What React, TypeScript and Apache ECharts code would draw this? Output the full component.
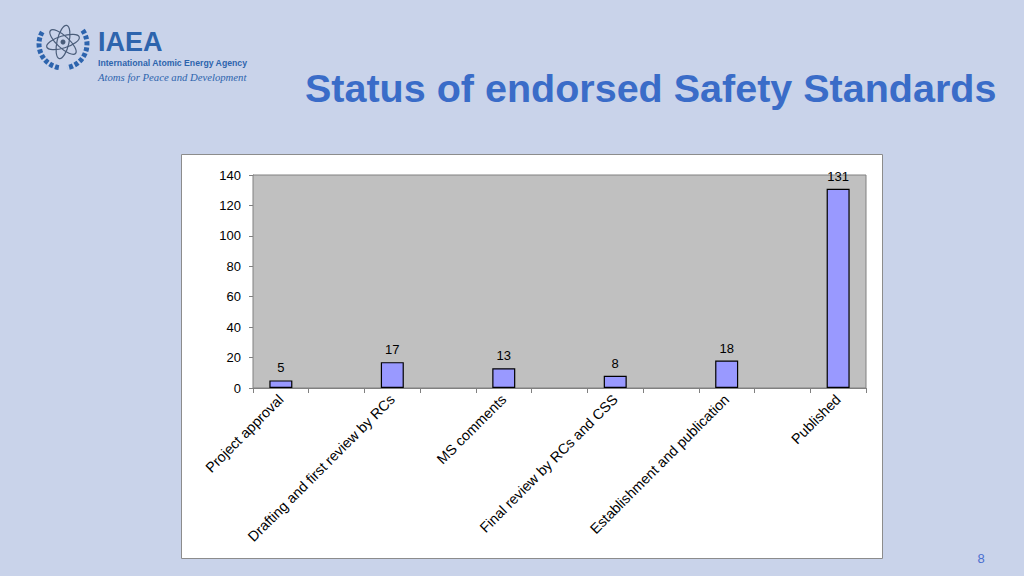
import React, { useEffect, useRef } from "react";
import * as echarts from "echarts";

const categories = [
  "Project approval",
  "",
  "Drafting and first review by RCs",
  "",
  "MS comments",
  "",
  "Final review by RCs and CSS",
  "",
  "Establishment and publication",
  "",
  "Published",
];
const values: (number | string)[] = [5, "-", 17, "-", 13, "-", 8, "-", 18, "-", 131];
const yMin = 0;
const yMax = 140;
const yStep = 20;
const titleText = "Status of endorsed Safety Standards";
const pageNumber = "8";

const FONT = "Liberation Sans, Arial, sans-serif";

export default function App() {
  const ref = useRef<HTMLDivElement>(null);
  useEffect(() => {
    if (!ref.current) return;
    const chart = echarts.init(ref.current, null, { renderer: "svg" });
    const logoBlue = "#2d64ad";
    chart.setOption({
      animation: false,
      backgroundColor: "#c9d3ea",
      textStyle: { fontFamily: FONT },
      grid: {
        left: 253,
        right: 158,
        top: 175,
        bottom: 188,
        show: true,
        backgroundColor: "#c0c0c0",
        borderColor: "#808080",
        borderWidth: 1,
        z: 1,
      },
      graphic: [
        // faint background decorations
        {
          type: "ellipse",
          z: -10,
          shape: { cx: 960, cy: 330, rx: 150, ry: 60 },
          rotation: 1.0,
          style: { fill: "none", stroke: "rgba(255,255,255,0.28)", lineWidth: 12 },
          silent: true,
        },
        {
          type: "ellipse",
          z: -10,
          shape: { cx: 960, cy: 330, rx: 150, ry: 60 },
          rotation: -0.6,
          style: { fill: "none", stroke: "rgba(255,255,255,0.22)", lineWidth: 10 },
          silent: true,
        },
        {
          type: "ellipse",
          z: -10,
          shape: { cx: 760, cy: 150, rx: 90, ry: 30 },
          rotation: 0.9,
          style: { fill: "none", stroke: "rgba(255,255,255,0.2)", lineWidth: 10 },
          silent: true,
        },
        // white chart box
        {
          type: "rect",
          z: -5,
          shape: { x: 181.5, y: 154.5, width: 701, height: 404 },
          style: { fill: "#ffffff", stroke: "#8c8c8c", lineWidth: 1 },
          silent: true,
        },
        // title
        {
          type: "text",
          x: 305,
          y: 88,
          style: {
            text: titleText,
            fill: "#3a6cc8",
            font: `bold 39.5px ${FONT}`,
            textVerticalAlign: "middle",
          },
        },
        // page number
        {
          type: "text",
          x: 981,
          y: 558,
          style: {
            text: pageNumber,
            fill: "#4a6fd0",
            font: `13px ${FONT}`,
            textAlign: "center",
            textVerticalAlign: "middle",
          },
        },
        // logo: wreath
        {
          type: "arc",
          shape: { cx: 63, cy: 44, r: 24, startAngle: (100 * Math.PI) / 180, endAngle: (215 * Math.PI) / 180 },
          style: { stroke: logoBlue, lineWidth: 5, lineDash: [4, 2], fill: "none" },
        },
        {
          type: "arc",
          shape: { cx: 63, cy: 44, r: 24, startAngle: (-35 * Math.PI) / 180, endAngle: (80 * Math.PI) / 180 },
          style: { stroke: logoBlue, lineWidth: 5, lineDash: [4, 2], fill: "none" },
        },
        // logo: atom
        {
          type: "ellipse",
          shape: { cx: 0, cy: 0, rx: 17, ry: 6 },
          x: 63,
          y: 42,
          rotation: 0.3,
          style: { stroke: "#4a5d7a", lineWidth: 1.2, fill: "none" },
        },
        {
          type: "ellipse",
          shape: { cx: 0, cy: 0, rx: 17, ry: 6 },
          x: 63,
          y: 42,
          rotation: 1.35,
          style: { stroke: "#4a5d7a", lineWidth: 1.2, fill: "none" },
        },
        {
          type: "ellipse",
          shape: { cx: 0, cy: 0, rx: 17, ry: 6 },
          x: 63,
          y: 42,
          rotation: 2.4,
          style: { stroke: "#4a5d7a", lineWidth: 1.2, fill: "none" },
        },
        {
          type: "circle",
          shape: { cx: 63, cy: 42, r: 2.5 },
          style: { fill: "#4a5d7a" },
        },
        // logo texts
        {
          type: "text",
          x: 98,
          y: 42,
          style: {
            text: "IAEA",
            fill: logoBlue,
            font: `bold 27px ${FONT}`,
            textVerticalAlign: "middle",
          },
        },
        {
          type: "text",
          x: 98,
          y: 63,
          style: {
            text: "International Atomic Energy Agency",
            fill: logoBlue,
            font: `bold 8.7px ${FONT}`,
            textVerticalAlign: "middle",
          },
        },
        {
          type: "text",
          x: 98,
          y: 77,
          style: {
            text: "Atoms for Peace and Development",
            fill: logoBlue,
            font: `italic 10.7px Liberation Serif, Times New Roman, serif`,
            textVerticalAlign: "middle",
          },
        },
      ],
      xAxis: {
        type: "category",
        data: categories,
        axisLine: { show: true, lineStyle: { color: "#808080" } },
        axisTick: { show: true, interval: 0, length: 5, lineStyle: { color: "#808080" } },
        axisLabel: {
          interval: 0,
          rotate: 45,
          margin: 9,
          color: "#000",
          fontSize: 14.3,
          fontFamily: FONT,
        },
        splitLine: { show: false },
      },
      yAxis: {
        type: "value",
        min: yMin,
        max: yMax,
        interval: yStep,
        axisLine: { show: true, lineStyle: { color: "#808080" } },
        axisTick: { show: true, length: 4, lineStyle: { color: "#808080" } },
        axisLabel: { color: "#000", fontSize: 13, margin: 12, fontFamily: FONT },
        splitLine: { show: true, lineStyle: { color: "#808080", width: 1 } },
      },
      series: [
        {
          type: "bar",
          data: values,
          barWidth: 23,
          z: 3,
          itemStyle: { color: "#9999ff", borderColor: "#000", borderWidth: 1.2 },
          label: {
            show: true,
            position: "top",
            distance: 6,
            color: "#000",
            fontSize: 13,
            fontFamily: FONT,
          },
        },
      ],
    });
    return () => chart.dispose();
  }, []);
  return (
    <div
      ref={ref}
      style={{ position: "fixed", left: 0, top: 0, width: 1024, height: 576 }}
    />
  );
}
